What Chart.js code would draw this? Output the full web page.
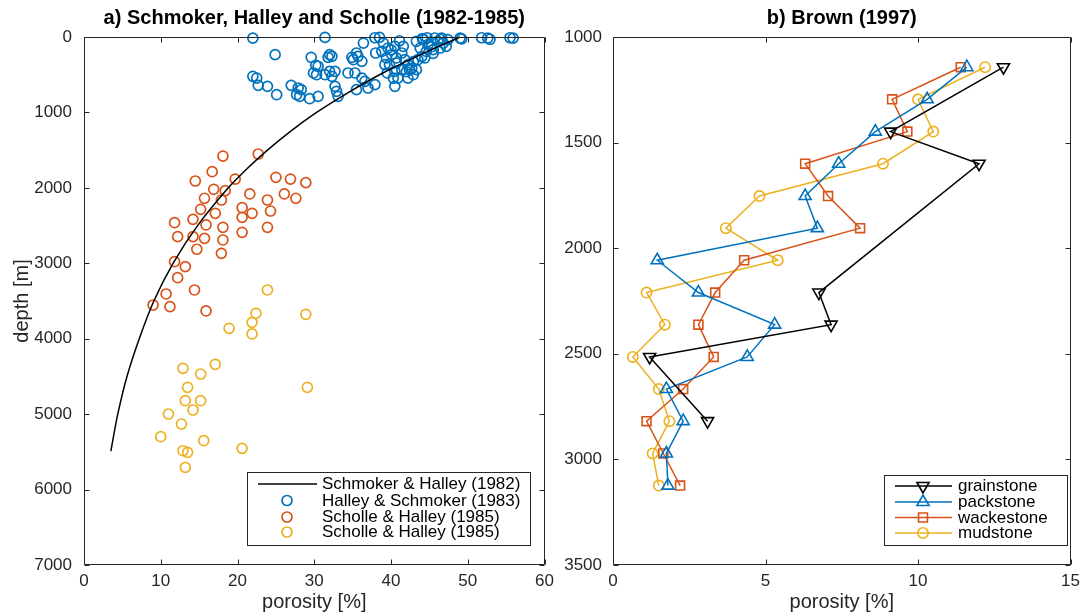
<!DOCTYPE html>
<html>
<head>
<meta charset="utf-8">
<script src="https://cdn.jsdelivr.net/npm/chart.js@4.4.1/dist/chart.umd.min.js"></script>
<style>
  html, body { margin: 0; padding: 0; background: #fff; }
  #wrap { position: relative; width: 1086px; height: 615px; overflow: hidden; }
  .panel { position: absolute; top: 0; height: 615px; }
  #pa { left: 0; width: 560px; }
  #pb { left: 560px; width: 526px; }
</style>
</head>
<body>
<div id="wrap">
  <div class="panel" id="pa"><canvas id="ca" width="560" height="615"></canvas></div>
  <div class="panel" id="pb"><canvas id="cb" width="526" height="615"></canvas></div>
</div>
<script>
// ---------- panel a: porosity vs depth, South Florida carbonates ----------
// Schmoker & Halley (1982) trend curve (depth m, porosity %)
const trendDepth    = [0, 250, 500, 750, 1000, 1250, 1500, 1750, 2000, 2500, 3000, 3500, 4000, 4500, 5000, 5490];
const trendPorosity = [49.0, 43.5, 38.5, 34.2, 30.3, 26.9, 23.9, 21.2, 18.8, 14.8, 11.6, 9.1, 7.2, 5.6, 4.4, 3.5];

// Halley & Schmoker (1983) samples
const halleyPorosity = [22.0, 31.4, 37.9, 38.5, 41.1, 44.1, 44.7, 46.4, 46.6, 49.0, 49.2, 51.8, 52.6, 52.9, 55.5, 55.9,
  24.9, 29.6, 30.2, 29.9, 30.3, 22.0, 22.5, 22.7, 23.9, 25.1, 27.0, 27.9, 28.3, 27.7, 28.1, 29.4, 30.5,
  36.4, 38.0, 38.8, 39.0, 32.0, 31.8, 32.3, 34.9, 35.1, 35.7, 36.2, 35.5, 30.5, 31.4, 32.0, 32.7, 32.3,
  34.4, 35.3, 36.2, 36.6, 32.7, 32.9, 33.1, 35.5, 37.0, 37.9, 39.2, 39.4, 39.6, 40.0, 40.5, 41.6, 40.1,
  40.7, 41.4, 39.8, 40.7, 41.8, 42.2, 39.5, 40.5, 41.4, 42.4, 40.3, 40.9, 43.3, 42.9, 42.2, 40.5, 43.3,
  44.2, 44.8, 45.7, 46.1, 46.8, 47.4, 43.8, 44.6, 45.5, 46.4, 47.2, 44.4, 43.5, 42.0, 42.7, 42.9, 44.0,
  45.5, 45.3];
const halleyDepth = [15, 5, 10, 5, 50, 20, 10, 30, 15, 15, 25, 10, 15, 30, 10, 15,
  234, 269, 375, 477, 500, 521, 544, 641, 654, 765, 641, 676, 698, 765, 787, 818, 787,
  80, 212, 190, 80, 234, 269, 256, 269, 301, 256, 322, 212, 388, 500, 455, 455, 521,
  477, 477, 544, 587, 654, 720, 787, 698, 676, 632, 367, 278, 146, 170, 124, 124, 234,
  278, 212, 367, 345, 301, 367, 477, 455, 433, 433, 544, 544, 433, 500, 544, 654, 57,
  35, 102, 13, 57, 80, 35, 146, 190, 168, 146, 124, 278, 301, 460, 415, 327, 261,
  216, 129];

// Scholle & Halley (1985), first sample set
const scholleAPorosity = [18.1, 22.7, 16.7, 14.5, 19.7, 25.0, 26.9, 28.9, 16.9, 18.4, 15.7, 17.9, 21.6, 23.9,
  26.1, 27.6, 15.2, 20.6, 21.9, 24.3, 17.1, 14.2, 20.6, 11.8, 15.9, 18.1, 23.9, 12.2, 14.2, 15.7, 18.1,
  20.6, 14.7, 17.9, 11.8, 13.2, 12.2, 10.7, 14.4, 9.0, 11.2, 15.9];
const scholleADepth = [1578, 1551, 1786, 1909, 1883, 1860, 1883, 1931, 2019, 2037, 2138, 2161, 2081, 2161,
  2081, 2138, 2284, 2263, 2337, 2307, 2337, 2417, 2391, 2462, 2492, 2523, 2523, 2647, 2647, 2669, 2691,
  2589, 2814, 2868, 2979, 3045, 3191, 3407, 3354, 3553, 3575, 3632];

// Scholle & Halley (1985), second sample set
const scholleBPorosity = [23.9, 22.4, 28.9, 21.9, 21.9, 18.9, 12.9, 17.1, 15.2, 13.5, 29.1, 13.2, 15.2, 14.2,
  11.0, 12.7, 10.0, 15.6, 20.6, 12.9, 13.5, 13.2];
const scholleBDepth = [3354, 3663, 3676, 3783, 3937, 3862, 4392, 4339, 4468, 4644, 4644, 4822, 4822, 4945,
  4998, 5131, 5299, 5352, 5453, 5485, 5506, 5705];

// ---------- panel b: Brown (1997) mean porosity by depth ----------
const brownDepth = [1143, 1295, 1448, 1600, 1753, 1905, 2057, 2210, 2362, 2515, 2667, 2819, 2972, 3124];
const grainstone = [12.8, null, 9.1, 12.0, null, null, null, 6.75, 7.15, 1.2, null, 3.1, null, null];
const packstone  = [11.6, 10.3, 8.6, 7.4, 6.3, 6.7, 1.45, 2.8, 5.3, 4.4, 1.75, 2.3, 1.75, 1.8];
const wackestone = [11.4, 9.15, 9.65, 6.3, 7.05, 8.1, 4.3, 3.35, 2.8, 3.3, 2.3, 1.1, 1.65, 2.2];
const mudstone   = [12.2, 10.0, 10.5, 8.85, 4.8, 3.7, 5.4, 1.1, 1.7, 0.65, 1.5, 1.85, 1.3, 1.5];

// axis ticks
const depthTicksA = [0, 1000, 2000, 3000, 4000, 5000, 6000, 7000];
const porosityTicksA = [0, 10, 20, 30, 40, 50, 60];
const depthTicksB = [1000, 1500, 2000, 2500, 3000, 3500];
const porosityTicksB = [0, 5, 10, 15];

// ---------- styling ----------
const FONT = "'Liberation Sans', Arial, Helvetica, sans-serif";
const AXIS = '#262626';
const BLUE = '#0072BD', RED = '#D95319', GOLD = '#EDB120';
const TICK_SIZE = 17, LABEL_SIZE = 20, TITLE_SIZE = 20, LEGEND_SIZE = 17;

Chart.defaults.font.family = FONT;
Chart.defaults.color = AXIS;

const toPoints = (xs, ys) => xs.map((v, i) => ({ x: v, y: ys[i] })).filter(p => p.x !== null);

// Box around the plot area with inward tick marks on all four sides
const framePlugin = {
  id: 'frame',
  afterDraw(chart) {
    const { ctx, chartArea: a, scales } = chart;
    const L = Math.round(a.left) + 0.5, R = Math.round(a.right) - 0.5;
    const T = Math.round(a.top) + 0.5, B = Math.round(a.bottom) - 0.5;
    const len = 5;
    ctx.save();
    ctx.strokeStyle = AXIS;
    ctx.lineWidth = 1;
    ctx.beginPath();
    ctx.rect(L, T, R - L, B - T);
    scales.x.ticks.forEach(t => {
      const px = Math.round(scales.x.getPixelForValue(t.value)) + 0.5;
      ctx.moveTo(px, B); ctx.lineTo(px, B - len);
      ctx.moveTo(px, T); ctx.lineTo(px, T + len);
    });
    scales.y.ticks.forEach(t => {
      const py = Math.round(scales.y.getPixelForValue(t.value)) + 0.5;
      ctx.moveTo(L, py); ctx.lineTo(L + len, py);
      ctx.moveTo(R, py); ctx.lineTo(R - len, py);
    });
    ctx.stroke();
    ctx.restore();
  }
};

// Bold title centred over the plot area
const panelTitlePlugin = {
  id: 'panelTitle',
  afterDraw(chart, args, opts) {
    const { ctx, chartArea: a } = chart;
    ctx.save();
    ctx.font = `bold ${TITLE_SIZE}px ${FONT}`;
    ctx.fillStyle = '#000';
    ctx.textAlign = 'center';
    ctx.textBaseline = 'middle';
    ctx.fillText(opts.text, (a.left + a.right) / 2 + (opts.dx || 0), opts.y);
    ctx.restore();
  }
};

// Boxed legend inside the plot area
const boxLegendPlugin = {
  id: 'boxLegend',
  afterDraw(chart, args, o) {
    const { ctx } = chart;
    ctx.save();
    ctx.fillStyle = '#fff';
    ctx.fillRect(o.x, o.y, o.w, o.h);
    ctx.strokeStyle = AXIS;
    ctx.lineWidth = 1;
    ctx.strokeRect(o.x + 0.5, o.y + 0.5, o.w, o.h);
    ctx.font = `${LEGEND_SIZE}px ${FONT}`;
    ctx.textBaseline = 'middle';
    ctx.textAlign = 'left';
    chart.data.datasets.forEach((ds, i) => {
      const y = o.rows[i];
      if (ds.showLine) {
        ctx.strokeStyle = ds.borderColor;
        ctx.lineWidth = ds.borderWidth;
        ctx.beginPath();
        ctx.moveTo(o.lineX0, y); ctx.lineTo(o.lineX1, y);
        ctx.stroke();
      }
      if (ds.pointRadius > 0) {
        ctx.strokeStyle = ds.pointBorderColor;
        ctx.fillStyle = 'rgba(0,0,0,0)';
        ctx.lineWidth = ds.pointBorderWidth;
        Chart.helpers.drawPoint(ctx, {
          pointStyle: ds.pointStyle || 'circle',
          radius: ds.pointRadius,
          rotation: ds.pointRotation || 0,
          borderWidth: ds.pointBorderWidth
        }, o.markX, y);
      }
      ctx.fillStyle = '#000';
      ctx.fillText(ds.label, o.textX, y + 0.5);
    });
    ctx.restore();
  }
};

function scales(xMin, xMax, xTicks, yMin, yMax, yTicks, yWidth, yTickPad, yTitlePad) {
  return {
    x: {
      type: 'linear', position: 'bottom', min: xMin, max: xMax,
      afterBuildTicks: s => { s.ticks = xTicks.map(v => ({ value: v })); },
      afterFit: s => { s.height = 50; },
      grid: { display: false, drawTicks: false },
      border: { display: false },
      ticks: { padding: 6, font: { size: TICK_SIZE }, color: AXIS, maxRotation: 0, callback: v => String(v) },
      title: { display: true, text: 'porosity [%]', font: { size: LABEL_SIZE }, color: AXIS, padding: { bottom: 1 } }
    },
    y: {
      type: 'linear', position: 'left', reverse: true, min: yMin, max: yMax,
      afterBuildTicks: s => { s.ticks = yTicks.map(v => ({ value: v })); },
      afterFit: s => { s.width = yWidth; },
      grid: { display: false, drawTicks: false },
      border: { display: false },
      ticks: { padding: yTickPad, font: { size: TICK_SIZE }, color: AXIS, callback: v => String(v) },
      title: { display: yTitlePad !== null, text: 'depth [m]', font: { size: LABEL_SIZE }, color: AXIS, padding: { top: yTitlePad || 0 } }
    }
  };
}

// ---------- panel a ----------
const circle = (label, color, xs, ys) => ({
  label, data: toPoints(xs, ys), showLine: false, clip: false,
  pointStyle: 'circle', pointRadius: 5, pointBorderWidth: 1.7,
  pointBorderColor: color, pointBackgroundColor: 'rgba(0,0,0,0)',
  pointHoverRadius: 5
});

new Chart(document.getElementById('ca'), {
  type: 'scatter',
  data: {
    datasets: [
      { label: 'Schmoker & Halley (1982)', data: toPoints(trendPorosity, trendDepth), showLine: true,
        borderColor: '#000', borderWidth: 1.5, pointRadius: 0, tension: 0.35, clip: false },
      circle('Halley & Schmoker (1983)', BLUE, halleyPorosity, halleyDepth),
      circle('Scholle & Halley (1985)', RED, scholleAPorosity, scholleADepth),
      circle('Scholle & Halley (1985)', GOLD, scholleBPorosity, scholleBDepth)
    ]
  },
  options: {
    responsive: false, animation: false, events: [],
    layout: { padding: { left: 0, right: 15, top: 37, bottom: 0 } },
    scales: scales(0, 60, porosityTicksA, 0, 7000, depthTicksA, 84, 12, 10),
    plugins: {
      legend: { display: false }, tooltip: { enabled: false },
      panelTitle: { text: 'a) Schmoker, Halley and Scholle (1982-1985)', y: 18 },
      boxLegend: { x: 247, y: 472, w: 283, h: 73, rows: [484, 500.5, 517, 532],
                   lineX0: 258, lineX1: 317, markX: 287, textX: 322 }
    }
  },
  plugins: [framePlugin, panelTitlePlugin, boxLegendPlugin]
});

// ---------- panel b ----------
const series = (label, color, values, style, radius, rotation) => ({
  label, data: toPoints(values, brownDepth), showLine: true, clip: false,
  borderColor: color, borderWidth: 1.5, tension: 0,
  pointStyle: style, pointRadius: radius, pointRotation: rotation, pointBorderWidth: 1.6,
  pointBorderColor: color, pointBackgroundColor: 'rgba(0,0,0,0)', pointHoverRadius: radius
});

new Chart(document.getElementById('cb'), {
  type: 'scatter',
  data: {
    datasets: [
      series('grainstone', '#000', grainstone, 'triangle', 7, 180),
      series('packstone', BLUE, packstone, 'triangle', 7, 0),
      series('wackestone', RED, wackestone, 'rect', 6.3, 0),
      series('mudstone', GOLD, mudstone, 'circle', 5.2, 0)
    ]
  },
  options: {
    responsive: false, animation: false, events: [],
    layout: { padding: { left: 0, right: 13, top: 37, bottom: 0 } },
    scales: scales(0, 15, porosityTicksB, 1000, 3500, depthTicksB, 53, 11, null),
    plugins: {
      legend: { display: false }, tooltip: { enabled: false },
      panelTitle: { text: 'b) Brown (1997)', y: 18 },
      boxLegend: { x: 324, y: 475, w: 183, h: 70, rows: [486, 502, 517.5, 533],
                   lineX0: 335, lineX1: 392, markX: 363, textX: 398 }
    }
  },
  plugins: [framePlugin, panelTitlePlugin, boxLegendPlugin]
});
</script>
</body>
</html>
